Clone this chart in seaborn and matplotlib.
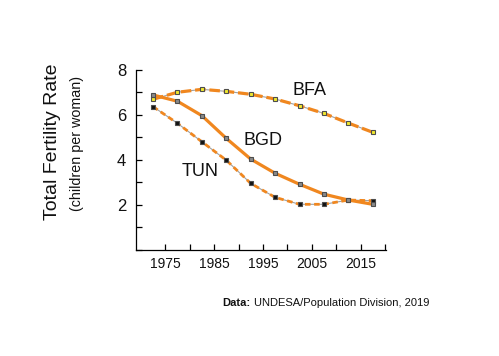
import pandas as pd
import matplotlib.pyplot as plt
import seaborn as sns

# datos (periodos quinquenales, punto medio)
years = [1972.5, 1977.5, 1982.5, 1987.5, 1992.5, 1997.5, 2002.5, 2007.5, 2012.5, 2017.5]
bfa = [6.70, 7.01, 7.14, 7.05, 6.92, 6.71, 6.41, 6.07, 5.64, 5.23]
bgd = [6.89, 6.61, 5.97, 4.96, 4.04, 3.41, 2.92, 2.48, 2.22, 2.03]
tun = [6.37, 5.63, 4.81, 3.99, 2.96, 2.34, 2.03, 2.03, 2.22, 2.19]

x_ticks = [1975, 1980, 1985, 1990, 1995, 2000, 2005, 2010, 2015, 2020]
x_labels = ['1975', '', '1985', '', '1995', '', '2005', '', '2015', '']
y_ticks = [0, 1, 2, 3, 4, 5, 6, 7, 8]
y_labels = ['', '', '2', '', '4', '', '6', '', '8']

df = pd.DataFrame({
    'year': years * 3,
    'tfr': bfa + bgd + tun,
    'country': ['BFA'] * 10 + ['BGD'] * 10 + ['TUN'] * 10,
})

sns.set_theme(style="ticks")
plt.rcParams['font.family'] = ['Liberation Sans', 'DejaVu Sans']

orange = '#f0871f'
fig = plt.figure(figsize=(4.99, 3.56), dpi=100)
ax = fig.add_axes([0.2725, 0.2978, 0.501, 0.5056])

# estilo de cada serie: (dashes, grosor, color del marcador)
estilos = {
    'BFA': ((3.3, 1.2), 2.3, '#f2ea2e'),
    'BGD': (None, 2.3, '#8a8a8a'),
    'TUN': ((2.0, 1.3), 2.0, '#111111'),
}

for c in ['BFA', 'TUN', 'BGD']:
    d = df[df['country'] == c]
    dashes, lw, mfc = estilos[c]
    if dashes is not None:
        # linea fina gris por debajo del trazo discontinuo
        sns.lineplot(data=d, x='year', y='tfr', ax=ax, color='#a0a0a0', lw=0.8,
                     legend=False)
    sns.lineplot(data=d, x='year', y='tfr', ax=ax, color=orange, lw=lw,
                 legend=False)
    if dashes is not None:
        ax.lines[-1].set_dashes(dashes)
    sns.lineplot(data=d, x='year', y='tfr', ax=ax, lw=0, marker='s',
                 markersize=3.4, markerfacecolor=mfc, markeredgecolor='#4d4d4d',
                 markeredgewidth=0.8, legend=False)

ax.text(2004.6, 7.09, 'BFA', fontsize=13, ha='center', va='center', color='#111111')
ax.text(1995.1, 4.87, 'BGD', fontsize=13, ha='center', va='center', color='#111111')
ax.text(1982.1, 3.47, 'TUN', fontsize=13, ha='center', va='center', color='#111111')

ax.set_xlim(1969, 2020.2)
ax.set_ylim(0, 8)
ax.set_xticks(x_ticks)
ax.set_xticklabels(x_labels)
ax.set_yticks(y_ticks)
ax.set_yticklabels(y_labels)
ax.tick_params(axis='both', direction='in', length=4, width=0.9, color='black',
               labelcolor='#111111')
ax.tick_params(axis='x', labelsize=10, pad=5)
ax.tick_params(axis='y', labelsize=12, pad=7)
ax.set_xlabel('')
ax.set_ylabel('')
sns.despine(ax=ax)
for s in ['left', 'bottom']:
    ax.spines[s].set_color('black')
    ax.spines[s].set_linewidth(0.9)

fig.text(53 / 499, 0.601, 'Total Fertility Rate', rotation=90, fontsize=14,
         ha='center', va='center', color='#111111')
fig.text(77 / 499, 0.597, '(children per woman)', rotation=90, fontsize=10.3,
         ha='center', va='center', color='#111111')

fig.text(222 / 499, 1 - 306 / 356, 'Data:', fontsize=8, fontweight='bold',
         ha='left', va='baseline', color='#111111')
fig.text(254 / 499, 1 - 306 / 356, 'UNDESA/Population Division, 2019', fontsize=8,
         ha='left', va='baseline', color='#111111')

fig.savefig('out.png', dpi=100)
